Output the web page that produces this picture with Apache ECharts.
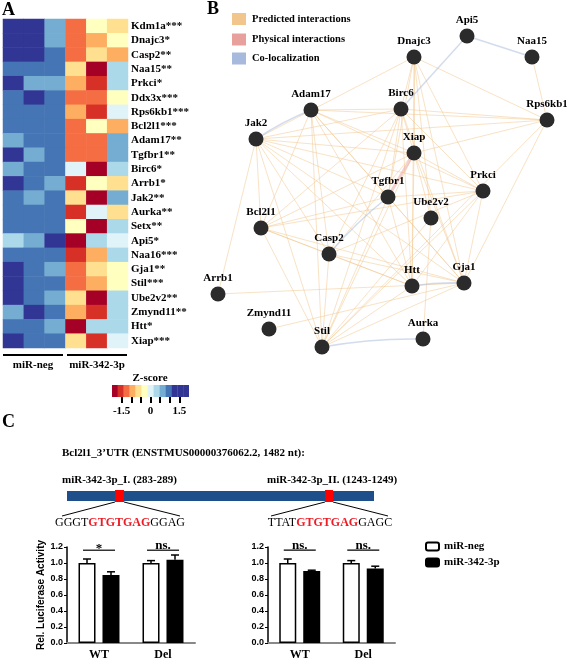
<!DOCTYPE html>
<html><head><meta charset="utf-8">
<script src="https://cdn.jsdelivr.net/npm/echarts@6/dist/echarts.min.js"></script>
<style>html,body{margin:0;padding:0;background:#fff}#c{width:567px;height:661px}</style>
</head><body><div id="c"></div>
<script>
// ---------- Panel A data ----------
const genes = ['Kdm1a','Dnajc3','Casp2','Naa15','Prkci','Ddx3x','Rps6kb1','Bcl2l1','Adam17','Tgfbr1','Birc6','Arrb1','Jak2','Aurka','Setx','Api5','Naa16','Gja1','Stil','Ube2v2','Zmynd11','Htt','Xiap'];
const geneStars = ['***','*','**','**','*','***','***','***','**','**','*','*','**','**','**','*','***','**','***','**','**','*','***'];
const heatCols = ['neg-1','neg-2','neg-3','mir-1','mir-2','mir-3'];
const groupNames = ['miR-neg','miR-342-3p'];
const zScores = [
 [1.54,1.54,0.62,-1.23,-0.31,-0.62],
 [1.54,1.54,0.62,-1.23,-0.92,-0.31],
 [1.54,1.54,0.92,-1.23,-0.62,-0.92],
 [0.92,0.92,0.92,-0.62,-1.85,0.31],
 [1.54,0.62,0.62,-0.92,-1.54,0.31],
 [0.92,1.54,0.92,-1.23,-1.23,-0.31],
 [0.92,0.92,0.92,-0.92,-1.54,0.0],
 [0.92,0.92,0.92,-1.23,-0.31,-0.92],
 [0.62,0.92,0.92,-1.23,-1.23,0.62],
 [1.54,0.62,0.92,-1.23,-1.23,0.62],
 [0.62,0.92,0.92,0.0,-1.85,0.31],
 [1.54,0.92,0.62,-1.54,-0.31,-0.62],
 [0.92,0.62,0.92,-0.62,-1.85,0.62],
 [0.92,0.92,0.92,-1.54,0.0,-0.62],
 [0.92,0.92,0.92,-0.31,-1.85,0.31],
 [0.31,0.62,1.54,-1.85,0.31,0.0],
 [0.92,0.92,0.92,-1.54,-0.92,0.31],
 [1.54,0.92,0.62,-1.23,-0.62,-0.31],
 [1.54,0.92,0.92,-1.23,-0.92,-0.31],
 [1.54,0.92,0.62,-0.62,-1.85,0.31],
 [0.62,1.54,0.92,-0.92,-1.54,0.31],
 [0.92,0.92,0.62,-1.85,0.31,0.31],
 [1.54,0.92,0.92,-0.62,-1.54,0.0]
];
const zRange = [-2, 2];
const zTicks = [-1.5,-1,-0.5,0,0.5,1,1.5];
const zTickLabels = [-1.5,0,1.5];

// ---------- Panel B data ----------
const netNodes = ['Api5','Naa15','Dnajc3','Rps6kb1','Adam17','Birc6','Jak2','Xiap','Tgfbr1','Prkci','Ube2v2','Bcl2l1','Casp2','Arrb1','Htt','Gja1','Zmynd11','Stil','Aurka'];
const predictedLinks = [
 ['Naa15','Rps6kb1'],
 ['Dnajc3','Rps6kb1'],['Dnajc3','Birc6'],['Dnajc3','Xiap'],['Dnajc3','Jak2'],['Dnajc3','Prkci'],['Dnajc3','Gja1'],['Dnajc3','Htt'],['Dnajc3','Ube2v2'],['Dnajc3','Tgfbr1'],
 ['Birc6','Rps6kb1'],['Birc6','Adam17'],['Birc6','Jak2'],['Birc6','Xiap'],['Birc6','Bcl2l1'],['Birc6','Casp2'],['Birc6','Htt'],['Birc6','Gja1'],['Birc6','Stil'],['Birc6','Tgfbr1'],['Birc6','Prkci'],
 ['Rps6kb1','Xiap'],['Rps6kb1','Adam17'],['Rps6kb1','Jak2'],['Rps6kb1','Gja1'],['Rps6kb1','Stil'],
 ['Adam17','Xiap'],['Adam17','Tgfbr1'],['Adam17','Prkci'],['Adam17','Bcl2l1'],['Adam17','Casp2'],['Adam17','Stil'],['Adam17','Htt'],['Adam17','Gja1'],
 ['Jak2','Bcl2l1'],['Jak2','Arrb1'],['Jak2','Stil'],['Jak2','Casp2'],['Jak2','Htt'],['Jak2','Xiap'],['Jak2','Tgfbr1'],['Jak2','Prkci'],['Jak2','Gja1'],
 ['Xiap','Casp2'],['Xiap','Bcl2l1'],['Xiap','Htt'],['Xiap','Gja1'],['Xiap','Ube2v2'],['Xiap','Prkci'],['Xiap','Stil'],
 ['Tgfbr1','Bcl2l1'],['Tgfbr1','Prkci'],['Tgfbr1','Htt'],['Tgfbr1','Gja1'],['Tgfbr1','Stil'],
 ['Prkci','Bcl2l1'],['Prkci','Casp2'],['Prkci','Htt'],['Prkci','Gja1'],['Prkci','Stil'],
 ['Bcl2l1','Casp2'],['Bcl2l1','Htt'],['Bcl2l1','Gja1'],['Bcl2l1','Stil'],
 ['Casp2','Htt'],['Casp2','Gja1'],['Casp2','Stil'],
 ['Htt','Stil'],['Ube2v2','Aurka'],['Ube2v2','Stil'],['Gja1','Stil'],
 ['Arrb1','Gja1'],['Zmynd11','Gja1']
];
const physicalLinks = [['Xiap','Tgfbr1']];
const colocLinks = [['Jak2','Adam17'],['Api5','Birc6'],['Api5','Naa15'],['Casp2','Tgfbr1'],['Stil','Aurka'],['Htt','Gja1']];
const netLegend = ['Predicted interactions','Physical interactions','Co-localization'];

// ---------- Panel C data ----------
const utrTitle = 'Bcl2l1_3\u2019UTR (ENSTMUS00000376062.2, 1482 nt):';
const siteNames = ['miR-342-3p_I. (283-289)','miR-342-3p_II. (1243-1249)'];
const siteSeqs = [['GGGT','GTGTGAG','GGAG'],['TTAT','GTGTGAG','GAGC']];
const lucCategories = ['WT','Del'];
const siteINeg = [1.00, 1.00], siteINegErr = [0.05, 0.03];
const siteIMir = [0.85, 1.04], siteIMirErr = [0.04, 0.06];
const siteIINeg = [1.00, 1.00], siteIINegErr = [0.05, 0.03];
const siteIIMir = [0.90, 0.93], siteIIMirErr = [0.01, 0.03];
const sigI = ['*','ns.'], sigII = ['ns.','ns.'];
const sigLevel = 1.16;
const lucTicks = [0, 1.2, 0.2];

// ---------- layout / styles ----------
const SERIF = "'Liberation Serif','Times New Roman',serif";
const SANS = "'Liberation Sans',Arial,sans-serif";
const pieceColors = ['#a50026','#d73027','#f46d43','#fdae61','#fee090','#ffffbf','#e0f3f8','#abd9e9','#74add1','#4575b4','#313695','#313695','#313695'];
const nodeLayout = {
 Api5:[467,36], Naa15:[532,57], Dnajc3:[414,57], Rps6kb1:[547,120], Adam17:[311,110], Birc6:[401,109],
 Jak2:[256,139], Xiap:[414,153], Tgfbr1:[388,197], Prkci:[483,191], Ube2v2:[431,218], Bcl2l1:[261,228],
 Casp2:[329,254], Arrb1:[218,294], Htt:[412,286], Gja1:[464,283], Zmynd11:[269,329], Stil:[322,347], Aurka:[423,339]
};
const edgeColors = {pred:'#f2c58c', phys:'#e8a09c', coloc:'#a7b9dc'};

const chart = echarts.init(document.getElementById('c'), null, {renderer:'canvas'});

const heatData = [];
zScores.forEach((row,r)=>row.forEach((v,c)=>heatData.push([c,r,v])));

const pw = (zRange[1]-zRange[0])/pieceColors.length;
const pieces = pieceColors.map((col,i)=>{
  const p = {gte: zRange[0]+i*pw, color: col};
  if(i<pieceColors.length-1) p.lt = zRange[0]+(i+1)*pw; else p.lte = zRange[1];
  return p;
});

function errSeries(ax, negV, negE, mirV, mirE){
  const data = [];
  negV.forEach((v,i)=>data.push([i, v, negE[i], -1]));
  mirV.forEach((v,i)=>data.push([i, v, mirE[i], 1]));
  return {type:'custom', xAxisIndex:ax, yAxisIndex:ax, data, z:5, silent:true,
    encode:{x:0,y:1},
    renderItem(params, api){
      const cat=api.value(0), v=api.value(1), e=api.value(2), side=api.value(3);
      const b=api.coord([cat,v]), t=api.coord([cat,v+e]);
      const x=b[0]+side*12;
      return {type:'group', children:[
        {type:'line', shape:{x1:x,y1:b[1],x2:x,y2:t[1]}, style:{stroke:'#000',lineWidth:1.5}},
        {type:'line', shape:{x1:x-4,y1:t[1],x2:x+4,y2:t[1]}, style:{stroke:'#000',lineWidth:1.5}}
      ]};
    }};
}
function sigSeries(ax, labels){
  return {type:'custom', xAxisIndex:ax, yAxisIndex:ax, silent:true, z:5,
    data: labels.map((l,i)=>[i, sigLevel, i]), encode:{x:0,y:1},
    renderItem(params, api){
      const p=api.coord([api.value(0), api.value(1)]);
      const txt=labels[api.value(2)];
      return {type:'group', children:[
        {type:'line', shape:{x1:p[0]-16,y1:p[1],x2:p[0]+16,y2:p[1]}, style:{stroke:'#000',lineWidth:1.2}},
        {type:'text', style:{text:txt, x:p[0], y: txt==='*'? p[1]+5 : p[1]+2, textAlign:'center', textVerticalAlign:'bottom', font:'bold 13px '+SERIF, fill:'#000'}}
      ]};
    }};
}
function barAxisX(grid){
  return {type:'category', gridIndex:grid, data:lucCategories,
    axisLine:{lineStyle:{color:'#888',width:2}}, axisTick:{show:false},
    axisLabel:{color:'#000', fontFamily:SERIF, fontWeight:'bold', fontSize:12, margin:6}};
}
function barAxisY(grid, withName){
  const o = {type:'value', gridIndex:grid, min:lucTicks[0], max:lucTicks[1], interval:lucTicks[2],
    axisLine:{show:true, lineStyle:{color:'#000',width:1.5}},
    axisTick:{show:true, length:3, lineStyle:{color:'#000'}},
    splitLine:{show:false},
    axisLabel:{color:'#000', fontFamily:SANS, fontWeight:'bold', fontSize:9, margin:4, formatter:v=>v.toFixed(1)}};
  if(withName){ o.name='Rel. Luciferase Activity'; o.nameLocation='middle'; o.nameGap=18;
    o.nameTextStyle={fontFamily:SANS, fontWeight:'bold', fontSize:10, color:'#000'}; }
  return o;
}
function bars(ax, name, vals, white){
  return {type:'bar', name, xAxisIndex:ax, yAxisIndex:ax, data:vals, barWidth:17, barGap:'41%',
    itemStyle: white ? {color:'#fff', borderColor:'#000', borderWidth:1.5} : {color:'#000', borderColor:'#000', borderWidth:1.5},
    silent:true};
}

const links = [];
predictedLinks.forEach(([s,t])=>links.push({source:s,target:t,lineStyle:{color:edgeColors.pred,width:1}}));
colocLinks.forEach(([s,t])=>links.push({source:s,target:t,lineStyle:{color:edgeColors.coloc,width:1.5,curveness:(s==='Api5'?0:0.05)}}));
physicalLinks.forEach(([s,t])=>links.push({source:s,target:t,lineStyle:{color:edgeColors.phys,width:3}}));

const graphic = [
  {type:'text', left:2, top:1, style:{text:'A', font:'bold 18px '+SERIF, fill:'#000'}},
  {type:'text', left:207, top:0, style:{text:'B', font:'bold 18px '+SERIF, fill:'#000'}},
  {type:'text', left:2, top:413, style:{text:'C', font:'bold 18px '+SERIF, fill:'#000'}},
  {type:'line', shape:{x1:3,y1:355,x2:63,y2:355}, style:{stroke:'#000',lineWidth:2}},
  {type:'line', shape:{x1:67,y1:355,x2:127,y2:355}, style:{stroke:'#000',lineWidth:2}},
  {type:'text', x:33, y:365, style:{text:groupNames[0], textAlign:'center', textVerticalAlign:'middle', font:'bold 11px '+SERIF, fill:'#000'}},
  {type:'text', x:97, y:365, style:{text:groupNames[1], textAlign:'center', textVerticalAlign:'middle', font:'bold 11px '+SERIF, fill:'#000'}},
  {type:'text', x:150, y:378, style:{text:'Z-score', textAlign:'center', textVerticalAlign:'middle', font:'bold 11px '+SERIF, fill:'#000'}},
];
[edgeColors.pred, edgeColors.phys, edgeColors.coloc].forEach((col,i)=>{
  const yc=[19,39.5,58.5][i];
  graphic.push({type:'rect', shape:{x:232,y:yc-6,width:14,height:12}, style:{fill:col}});
  graphic.push({type:'text', x:252, y:yc, style:{text:netLegend[i], textVerticalAlign:'middle', font:'bold 10.5px '+SERIF, fill:'#000'}});
});
graphic.push({type:'text', x:62, y:453, style:{text:utrTitle, textVerticalAlign:'middle', font:'bold 11px '+SERIF, fill:'#000'}});
graphic.push({type:'text', x:62, y:480, style:{text:siteNames[0], textVerticalAlign:'middle', font:'bold 11px '+SERIF, fill:'#000'}});
graphic.push({type:'text', x:267, y:480, style:{text:siteNames[1], textVerticalAlign:'middle', font:'bold 11px '+SERIF, fill:'#000'}});
graphic.push({type:'rect', shape:{x:67,y:491,width:307,height:10}, style:{fill:'#1f4f8b'}});
[[115,124,62,180,120],[325,333,271,388,330]].forEach((s,i)=>{
  graphic.push({type:'rect', shape:{x:s[0],y:490,width:s[1]-s[0],height:12}, style:{fill:'#ff0000'}});
  graphic.push({type:'line', shape:{x1:s[0],y1:502,x2:s[2],y2:516}, style:{stroke:'#000',lineWidth:1}});
  graphic.push({type:'line', shape:{x1:s[1],y1:502,x2:s[3],y2:516}, style:{stroke:'#000',lineWidth:1}});
  const q=siteSeqs[i];
  graphic.push({type:'text', x:s[4], y:523, style:{text:'{k|'+q[0]+'}{r|'+q[1]+'}{k|'+q[2]+'}', textAlign:'center', textVerticalAlign:'middle',
    rich:{k:{fill:'#000', fontFamily:SERIF, fontSize:12}, r:{fill:'#ee1c25', fontFamily:SERIF, fontSize:12, fontWeight:'bold'}}}});
});

const option = {
  animation:false,
  backgroundColor:'#fff',
  textStyle:{fontFamily:SERIF},
  grid:[
    {left:3, top:19, width:125, height:329},
    {left:67, top:547, width:128, height:98},
    {left:268, top:547, width:127, height:98},
    {left:112, top:385, width:77, height:12}
  ],
  xAxis:[
    {type:'category', gridIndex:0, data:heatCols, show:false},
    barAxisX(1), barAxisX(2),
    {type:'value', gridIndex:3, min:zRange[0], max:zRange[1], axisLine:{show:false}, splitLine:{show:false},
     axisTick:{show:true, customValues:zTicks, length:6, lineStyle:{color:'#000',width:2}},
     axisLabel:{show:true, customValues:zTickLabels, margin:9, color:'#000', fontFamily:SERIF, fontWeight:'bold', fontSize:11, formatter:v=>String(v)}}
  ],
  yAxis:[
    {type:'category', gridIndex:0, data:genes.map((g,i)=>g+geneStars[i]), inverse:true, position:'right',
     axisLine:{show:false}, axisTick:{show:false},
     axisLabel:{color:'#000', fontFamily:SERIF, fontWeight:'bold', fontSize:11, margin:3}},
    barAxisY(1,true), barAxisY(2,false),
    {type:'value', gridIndex:3, show:false}
  ],
  visualMap:[{type:'piecewise', seriesIndex:0, pieces, orient:'horizontal',
    left:112, top:385, itemWidth:77/pieceColors.length, itemHeight:12, itemGap:0, itemSymbol:'rect',
    showLabel:false, text:null, padding:0, selectedMode:false, hoverLink:false}],
  legend:{data:groupNames, orient:'vertical', left:420, top:536, itemWidth:13, itemHeight:8, itemGap:5,
    textStyle:{fontFamily:SERIF, fontWeight:'bold', fontSize:11, color:'#000'}, selectedMode:false},
  graphic,
  series:[
    {type:'heatmap', xAxisIndex:0, yAxisIndex:0, data:heatData, silent:true},
    bars(1,groupNames[0],siteINeg,true), bars(1,groupNames[1],siteIMir,false),
    errSeries(1,siteINeg,siteINegErr,siteIMir,siteIMirErr), sigSeries(1,sigI),
    bars(2,groupNames[0],siteIINeg,true), bars(2,groupNames[1],siteIIMir,false),
    errSeries(2,siteIINeg,siteIINegErr,siteIIMir,siteIIMirErr), sigSeries(2,sigII),
    {type:'graph', layout:'none', roam:false, silent:true,
     left:218, top:36, width:329, height:311,
     symbol:'circle', symbolSize:15, itemStyle:{color:'#2b2b2b'},
     label:{show:true, position:'top', distance:3, color:'#000', fontFamily:SERIF, fontWeight:'bold', fontSize:11},
     data: netNodes.map(n=>({name:n, x:nodeLayout[n][0], y:nodeLayout[n][1]})),
     links}
  ]
};
chart.setOption(option);
</script></body></html>
